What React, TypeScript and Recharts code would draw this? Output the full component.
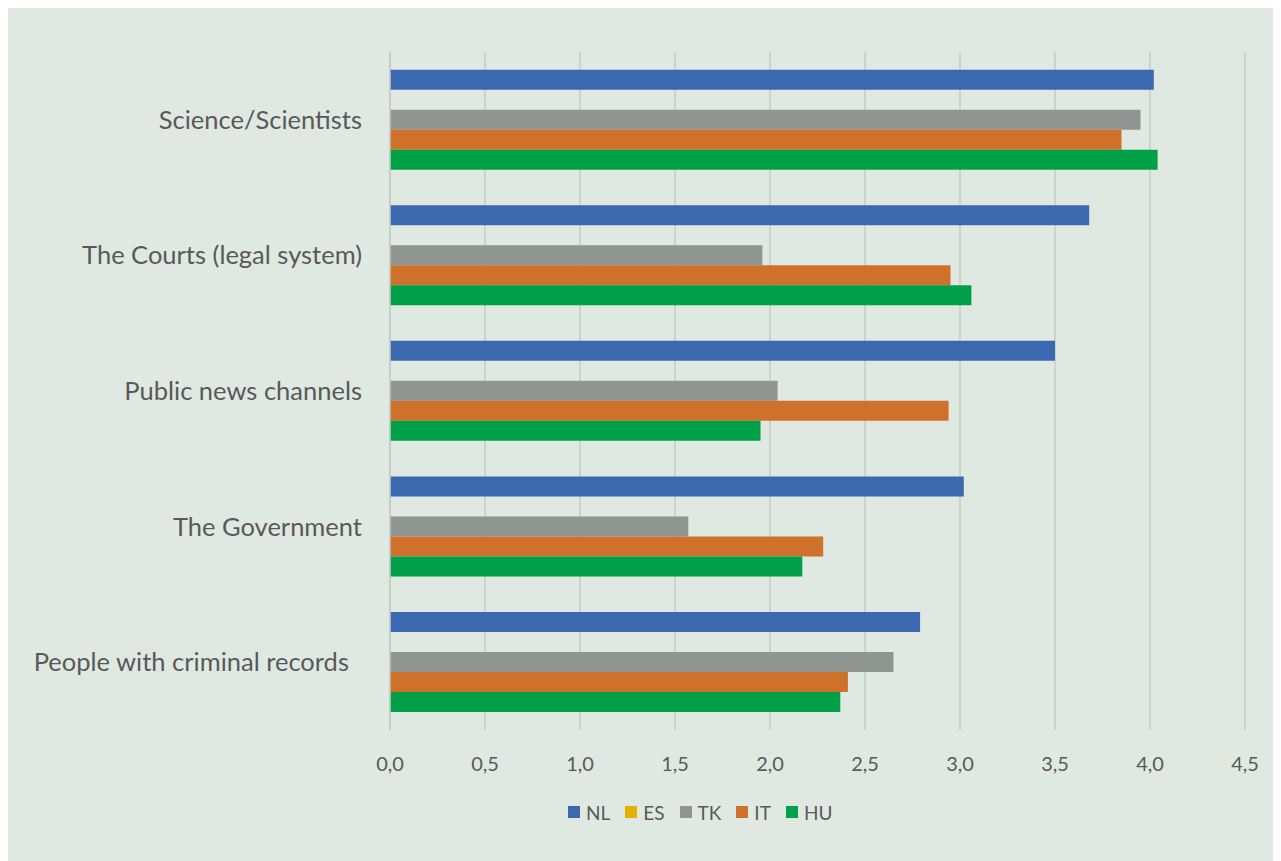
import React from 'react';
import { BarChart, Bar, XAxis, YAxis, CartesianGrid, Legend } from 'recharts';

const categories = [
  'Science/Scientists',
  'The Courts (legal system)',
  'Public news channels',
  'The Government',
  'People with criminal records  ',
];
const nlValues = [4.02, 3.68, 3.5, 3.02, 2.79];
const esValues: (number | null)[] = [null, null, null, null, null];
const tkValues = [3.95, 1.96, 2.04, 1.57, 2.65];
const itValues = [3.85, 2.95, 2.94, 2.28, 2.41];
const huValues = [4.04, 3.06, 1.95, 2.17, 2.37];
const xTicks = [0, 0.5, 1, 1.5, 2, 2.5, 3, 3.5, 4, 4.5];

const seriesNames = ['NL', 'ES', 'TK', 'IT', 'HU'];
const seriesColors = ['#3C68B0', '#E3B100', '#8F9591', '#D0712B', '#00A049'];
const seriesValues = [nlValues, esValues, tkValues, itValues, huValues];

const data = categories.map((c, i) => {
  const row: Record<string, any> = { name: c };
  seriesNames.forEach((s, k) => {
    row[s] = seriesValues[k][i];
  });
  return row;
});

const FONT = 'Lato, "Open Sans", sans-serif';
const TEXT = '#595959';

const YTick = (props: any) => {
  const { x, y, payload } = props;
  return (
    <text
      x={x}
      y={y}
      dy="0.35em"
      textAnchor="end"
      fill={TEXT}
      fontSize={25.5}
      fontFamily={FONT}
      style={{ whiteSpace: 'pre' }}
    >
      {payload.value}
    </text>
  );
};

const LegendContent = () => (
  <div style={{ display: 'flex', alignItems: 'center', fontFamily: FONT, fontSize: 19, color: TEXT }}>
    {seriesNames.map((s, k) => (
      <div key={s} style={{ display: 'flex', alignItems: 'center', marginRight: 15 }}>
        <span style={{ width: 12, height: 12, background: seriesColors[k], display: 'inline-block', marginRight: 6 }} />
        <span>{s}</span>
      </div>
    ))}
  </div>
);

export default function App() {
  return (
    <div style={{ width: 1271, height: 853, background: '#DFE9E1' }}>
      <BarChart
        width={1271}
        height={853}
        data={data}
        layout="vertical"
        margin={{ top: 44, right: 34, bottom: 41, left: 0 }}
        barCategoryGap="13%"
        barGap={0}
      >
        <CartesianGrid horizontal={false} stroke="#C3CCC5" strokeWidth={1.5} />
        <XAxis
          type="number"
          domain={[0, 4.5]}
          ticks={xTicks}
          interval={0}
          height={50}
          axisLine={false}
          tickLine={false}
          tickMargin={21}
          tickFormatter={(v: number) => v.toFixed(1).replace('.', ',')}
          tick={{ fill: TEXT, fontSize: 20, fontFamily: FONT }}
        />
        <YAxis
          type="category"
          dataKey="name"
          width={382}
          axisLine={{ stroke: '#C3CCC5', strokeWidth: 1.5 }}
          tickLine={false}
          tickMargin={22}
          tick={<YTick />}
          interval={0}
        />
        {seriesNames.map((s, k) => (
          <Bar key={s} dataKey={s} fill={seriesColors[k]} isAnimationActive={false} />
        ))}
        <Legend
          verticalAlign="bottom"
          height={40}
          content={<LegendContent />}
          wrapperStyle={{ bottom: 29, left: 560, width: 'auto', height: 40, display: 'flex', alignItems: 'center' }}
        />
      </BarChart>
    </div>
  );
}
